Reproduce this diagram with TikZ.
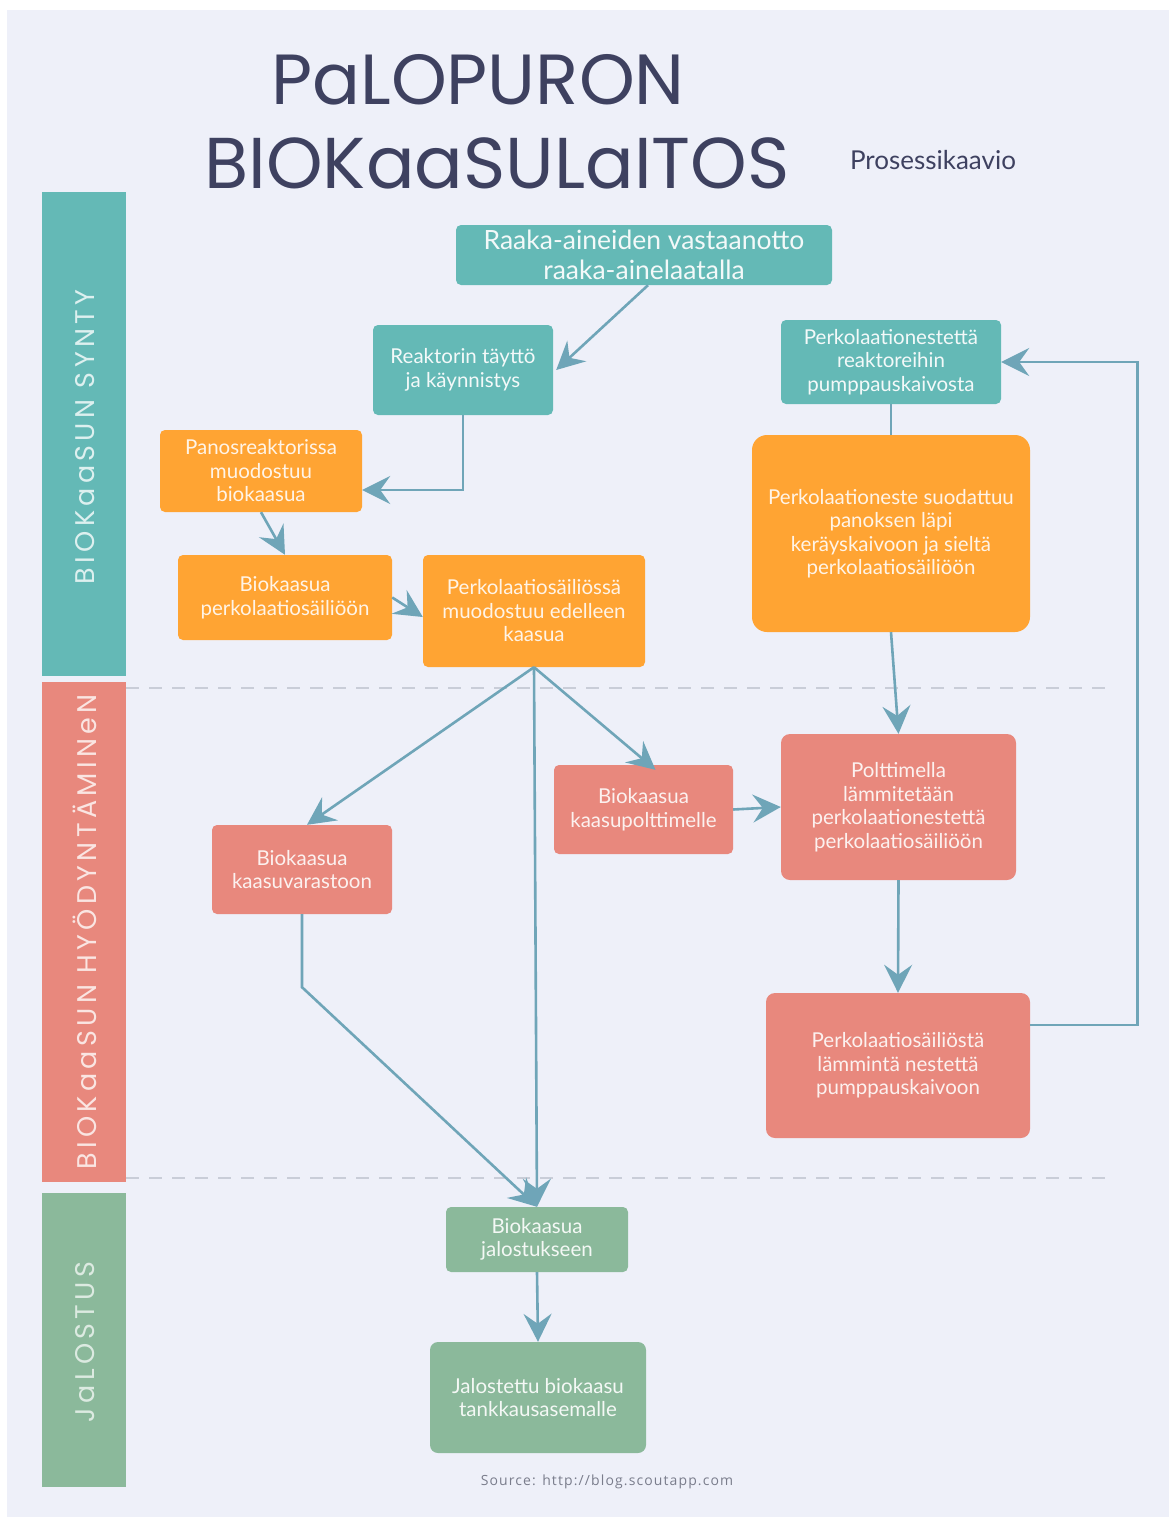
\documentclass[tikz,border=0pt]{standalone}
\usepackage{fontspec}
\setmainfont{Lato}
\newfontfamily\titlefont{Poppins}
\newfontfamily\sidefont[LetterSpace=16]{Poppins}
\newfontfamily\srcfont[LetterSpace=8]{Open Sans}
\usetikzlibrary{arrows.meta}
\definecolor{bg}{HTML}{EEF0F9}
\definecolor{tealc}{HTML}{64B9B6}
\definecolor{orangec}{HTML}{FFA433}
\definecolor{redc}{HTML}{E8887D}
\definecolor{greenc}{HTML}{8BB99B}
\definecolor{arrc}{HTML}{6FA5B8}
\definecolor{titlec}{HTML}{3E4160}
\definecolor{dashc}{HTML}{C9CDD8}
\definecolor{srcc}{HTML}{7A7D8C}
\begin{document}
\begin{tikzpicture}[x=1pt,y=-1pt,
  box/.style={rectangle, rounded corners=5pt, align=center, inner sep=0pt,
    font=\fontsize{20.5}{23.5}\selectfont},
  tealbox/.style={box, fill=tealc, text=white!92!tealc},
  orangebox/.style={box, fill=orangec, text=white!88!orangec},
  redbox/.style={box, fill=redc, text=white!88!redc},
  greenbox/.style={box, fill=greenc, text=white!90!greenc},
  side/.style={rectangle, inner sep=0pt, minimum width=84pt},
  sidetext/.style={rotate=90, font=\sidefont\fontsize{27}{27}\selectfont},
  arr/.style={draw=arrc, line width=2.6pt, -{Stealth[length=28pt,width=28pt,inset=10pt]}},
  link/.style={draw=arrc, line width=2.6pt},
  sep/.style={draw=dashc, line width=2.5pt, dash pattern=on 13pt off 10pt}
]
\useasboundingbox (0,0) rectangle (1169,1517);
\fill[white] (0,0) rectangle (1169,1517);
\fill[bg] (7,10) rectangle (1169,1517);

% title
\node[font=\titlefont\fontsize{71}{71}\selectfont, text=titlec] (t1) at (478,80) {PaLOPURON};
\node[font=\titlefont\fontsize{72}{72}\selectfont, text=titlec] (t2) at (497,163) {BIOKaaSULaITOS};
\node[font=\fontsize{26}{26}\selectfont, text=titlec] (t3) at (933,160) {Prosessikaavio};

% side bars
\node[side, fill=tealc, minimum height=484pt] (s1) at (84,434) {};
\node[side, fill=redc, minimum height=500pt] (s2) at (84,932) {};
\node[side, fill=greenc, minimum height=294pt] (s3) at (84,1340) {};
\node[sidetext, text=white!78!tealc] (s1t) at (85,437) {BIOKaaSUN SYNTY};
\node[sidetext, text=white!78!redc] (s2t) at (85,932) {BIOKaaSUN HYÖDYNTÄMINeN};
\node[sidetext, text=white!70!greenc] (s3t) at (85,1342) {JaLOSTUS};

% separators
\draw[sep] (126,688) -- (1105,688);
\draw[sep] (126,1178) -- (1105,1178);

% boxes
\node[tealbox, minimum width=376pt, minimum height=60pt, font=\fontsize{26.5}{30}\selectfont] (raaka) at (644,255) {Raaka-aineiden vastaanotto\\raaka-ainelaatalla};
\node[tealbox, minimum width=180pt, minimum height=90pt] (reakt) at (463,370) {Reaktorin täyttö\\ja käynnistys};
\node[tealbox, minimum width=220pt, minimum height=84pt] (perkteal) at (891,362) {Perkolaationestettä\\reaktoreihin\\pumppauskaivosta};
\node[orangebox, minimum width=202pt, minimum height=82pt] (panos) at (261,471) {Panosreaktorissa\\muodostuu\\biokaasua};
\node[orangebox, minimum width=214pt, minimum height=85pt] (bioperk) at (285,597.5) {Biokaasua\\perkolaatiosäiliöön};
\node[orangebox, minimum width=222pt, minimum height=112pt] (perksail) at (534,611) {Perkolaatiosäiliössä\\muodostuu edelleen\\kaasua};
\node[orangebox, rounded corners=15pt, minimum width=278pt, minimum height=197pt] (perksuod) at (891,533.5) {Perkolaationeste suodattuu\\panoksen läpi\\keräyskaivoon ja sieltä\\perkolaatiosäiliöön};
\node[redbox, minimum width=179pt, minimum height=89pt] (kaasupolt) at (643.5,809.5) {Biokaasua\\kaasupolttimelle};
\node[redbox, rounded corners=9pt, minimum width=235pt, minimum height=146pt] (poltt) at (898.5,807) {Polttimella\\lämmitetään\\perkolaationestettä\\perkolaatiosäiliöön};
\node[redbox, minimum width=180pt, minimum height=89pt] (kaasuvar) at (302,869.5) {Biokaasua\\kaasuvarastoon};
\node[redbox, rounded corners=9pt, minimum width=264pt, minimum height=145pt] (perklamm) at (898,1065.5) {Perkolaatiosäiliöstä\\lämmintä nestettä\\pumppauskaivoon};
\node[greenbox, minimum width=182pt, minimum height=65pt] (jalost) at (537,1239.5) {Biokaasua\\jalostukseen};
\node[greenbox, rounded corners=8pt, minimum width=216pt, minimum height=111pt] (jalostettu) at (538,1397.5) {Jalostettu biokaasu\\tankkausasemalle};

% source
\node[font=\srcfont\fontsize{14}{14}\selectfont, text=srcc] (src) at (607,1482) {Source: http://blog.scoutapp.com};

% connectors
\draw[arr] ([xshift=4pt]raaka.south) -- ([xshift=3pt]reakt.east);
\draw[arr] (reakt.south) |- ([yshift=-19pt]panos.east);
\draw[arr] (panos.south) -- (bioperk.north);
\draw[arr] (bioperk.east) -- ([yshift=-6pt]perksail.west);
\draw[arr] (perksail.south) -- ([xshift=5pt]kaasuvar.north);
\draw[arr] (perksail.south) -- (jalost.north);
\draw[arr] (perksail.south) -- ([xshift=12pt,yshift=-5pt]kaasupolt.north);
\draw[arr] (kaasuvar.south) -- ++(0,73) -- (jalost.north);
\draw[arr] (kaasupolt.east) -- (poltt.west);
\draw[arr] (perksuod.south) -- (poltt.north);
\draw[link] (perkteal.south) -- (perksuod.north);
\draw[arr] (poltt.south) -- (perklamm.north);
\draw[arr] ([yshift=40.5pt]perklamm.east) -- ++(107,0) |- (perkteal.east);
\draw[arr] (jalost.south) -- (jalostettu.north);
\end{tikzpicture}
\end{document}
